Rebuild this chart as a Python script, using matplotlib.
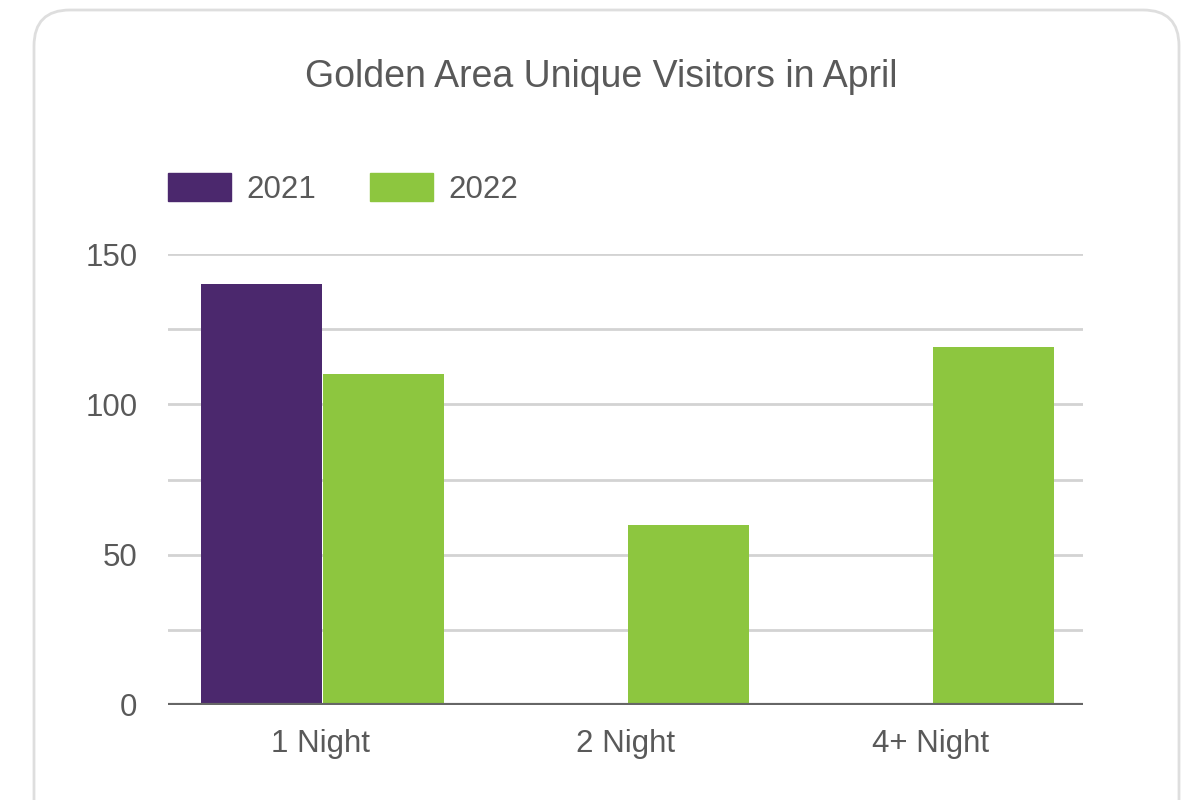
import matplotlib.pyplot as plt
from matplotlib.patches import FancyBboxPatch, Patch

plt.rcParams['font.family'] = ['Liberation Sans', 'DejaVu Sans']

categories = ["1 Night", "2 Night", "4+ Night"]
years = ["2021", "2022"]
visitors_2021 = [140, 0, 0]
visitors_2022 = [110, 60, 119]
yticks = [0, 50, 100, 150]

purple = "#4b286d"
green = "#8dc63f"
textcol = "#595959"

fig = plt.figure(figsize=(11.99, 8), dpi=100)

# rounded card border
card = FancyBboxPatch((34/1199, -40/800), 1145/1199, 830/800,
                      boxstyle="round,pad=0,rounding_size=0.03",
                      transform=fig.transFigure, facecolor="white",
                      edgecolor="#dedede", linewidth=2, mutation_aspect=1199/800,
                      zorder=-5)
fig.patches.append(card)

ax = fig.add_axes([168/1199, 1-705/800, 915/1199, 451/800])
ax.set_facecolor("none")
ax.set_zorder(2)

x = range(len(categories))
w = 0.397
ax.bar([i - 0.193 for i in x], visitors_2021, width=w, color=purple, zorder=3)
ax.bar([i + 0.207 for i in x], visitors_2022, width=w, color=green, zorder=3)

ax.set_xlim(-0.5, 2.5)
ax.set_ylim(0, 150)
ax.set_yticks(yticks)
ax.set_yticklabels([str(v) for v in yticks])
for v in range(25, 151, 25):
    ax.axhline(v, color="#d3d3d3", linewidth=2, zorder=1)
ax.axhline(0, color="#666666", linewidth=3, zorder=4)

ax.set_xticks(list(x))
ax.set_xticklabels(categories)
ax.tick_params(axis="both", length=0, labelsize=22.5, labelcolor=textcol)
ax.tick_params(axis="y", pad=22)
ax.tick_params(axis="x", pad=17)
for s in ax.spines.values():
    s.set_visible(False)

fig.text(0.5017, 1-77/800, "Golden Area Unique Visitors in April",
         ha="center", va="center", fontsize=27, color=textcol)

handles = [Patch(color=purple), Patch(color=green)]
leg = fig.legend(handles, years, loc="center left",
                 bbox_to_anchor=(168/1199, 1-189/800), ncol=2, frameon=False,
                 fontsize=22.5, handlelength=2.03, handleheight=1.0,
                 handletextpad=0.48, columnspacing=1.71, borderpad=0,
                 borderaxespad=0)
for t in leg.get_texts():
    t.set_color(textcol)

fig.savefig("out.png", dpi=100)
